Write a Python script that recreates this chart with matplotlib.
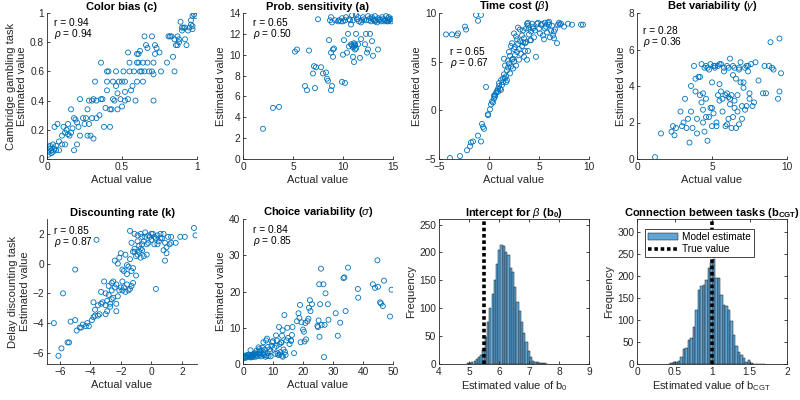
import numpy as np
import matplotlib
matplotlib.use("Agg")
import matplotlib.pyplot as plt

plt.rcParams['font.family'] = ['Liberation Sans', 'DejaVu Sans']
plt.rcParams['mathtext.fontset'] = 'custom'
plt.rcParams['mathtext.rm'] = 'Liberation Sans'
plt.rcParams['mathtext.it'] = 'Liberation Sans:italic'
plt.rcParams['mathtext.bf'] = 'Liberation Sans:bold'

# ---- data (actual, estimated) ----
color_bias = np.array([
    (0.01, 0.03), (0.01, 0.05), (0.02, 0.07), (0.02, 0.09), (0.03, 0.06), (0.04, 0.10), (0.05, 0.07),
    (0.03, 0.04), (0.01, 0.08), (0.06, 0.09), (0.08, 0.06), (0.10, 0.10), (0.10, 0.16), (0.12, 0.10),
    (0.13, 0.20), (0.11, 0.22), (0.14, 0.17), (0.16, 0.18), (0.17, 0.21), (0.15, 0.16), (0.18, 0.06),
    (0.20, 0.10), (0.21, 0.22), (0.20, 0.25), (0.18, 0.28), (0.19, 0.27), (0.16, 0.34), (0.05, 0.22),
    (0.07, 0.24), (0.22, 0.41), (0.27, 0.16), (0.29, 0.16), (0.31, 0.14), (0.26, 0.28), (0.27, 0.34),
    (0.28, 0.40), (0.30, 0.40), (0.31, 0.41), (0.33, 0.40), (0.30, 0.28), (0.28, 0.24), (0.32, 0.53),
    (0.36, 0.66), (0.35, 0.30), (0.37, 0.41), (0.38, 0.22), (0.39, 0.35), (0.40, 0.47), (0.40, 0.53),
    (0.41, 0.60), (0.42, 0.22), (0.43, 0.34), (0.44, 0.41), (0.44, 0.53), (0.45, 0.40), (0.46, 0.60),
    (0.47, 0.45), (0.47, 0.34), (0.48, 0.53), (0.49, 0.41), (0.50, 0.36), (0.50, 0.53), (0.51, 0.60),
    (0.52, 0.46), (0.52, 0.53), (0.54, 0.41), (0.55, 0.60), (0.55, 0.66), (0.54, 0.73), (0.56, 0.47),
    (0.57, 0.50), (0.58, 0.60), (0.59, 0.40), (0.60, 0.53), (0.60, 0.66), (0.61, 0.66), (0.61, 0.72),
    (0.62, 0.60), (0.62, 0.74), (0.63, 0.60), (0.64, 0.53), (0.64, 0.66), (0.65, 0.84), (0.65, 0.60),
    (0.66, 0.78), (0.67, 0.76), (0.67, 0.66), (0.68, 0.60), (0.70, 0.60), (0.70, 0.84), (0.71, 0.40),
    (0.71, 0.66), (0.71, 0.58), (0.72, 0.72), (0.72, 0.78), (0.73, 0.76), (0.75, 0.73), (0.76, 0.60),
    (0.80, 0.66), (0.81, 0.84), (0.82, 0.84), (0.83, 0.84), (0.84, 0.70), (0.85, 0.60), (0.86, 0.78),
    (0.87, 0.78), (0.87, 0.84), (0.88, 0.82), (0.88, 0.80), (0.90, 0.90), (0.89, 0.94), (0.90, 0.88),
    (0.91, 0.90), (0.92, 0.90), (0.93, 0.78), (0.94, 0.88), (0.95, 0.90), (0.96, 0.92), (0.97, 0.91),
    (0.96, 0.95), (0.97, 0.98), (0.98, 0.99), (0.99, 0.98), (0.97, 0.89), (0.92, 0.82), (0.85, 0.82),
    (0.60, 0.72), (0.52, 0.40), (0.46, 0.50), (0.40, 0.60), (0.42, 0.34), (0.36, 0.41), (0.33, 0.28),
    (0.24, 0.28), (0.22, 0.16), (0.25, 0.24), (0.14, 0.24), (0.12, 0.18), (0.08, 0.12), (0.06, 0.06),
    (0.04, 0.05),
])

prob_sens = np.array([
    (2.0, 2.9), (3.0, 4.9), (3.6, 5.0), (5.2, 10.3), (5.4, 10.5), (6.2, 7.0), (6.4, 6.6), (6.6, 10.4),
    (7.0, 8.2), (7.1, 8.9), (7.2, 6.8), (7.3, 8.8), (7.5, 13.4), (7.8, 8.8), (8.0, 8.2), (8.3, 8.3),
    (8.4, 7.7), (8.5, 7.5), (8.6, 11.4), (8.8, 6.6), (8.8, 10.2), (8.9, 7.0), (9.0, 9.8), (9.0, 10.5),
    (9.1, 10.6), (8.7, 13.3), (8.8, 13.6), (8.9, 13.1), (9.2, 13.3), (9.5, 13.2), (9.8, 13.2),
    (9.9, 13.5), (9.9, 7.4), (10.2, 7.3), (10.0, 10.0), (10.1, 11.4), (10.2, 13.3), (10.3, 13.6),
    (10.4, 10.2), (10.5, 12.0), (10.6, 10.8), (10.7, 13.3), (10.8, 12.9), (10.9, 13.8), (10.9, 10.9),
    (11.0, 9.8), (11.0, 10.7), (11.1, 9.3), (11.1, 10.8), (11.2, 11.0), (11.2, 10.5), (11.3, 12.0),
    (11.3, 13.8), (11.4, 13.4), (11.5, 11.0), (11.6, 13.2), (11.7, 9.7), (11.8, 11.5), (11.9, 13.3),
    (12.0, 13.6), (12.2, 11.0), (12.3, 12.0), (12.4, 10.2), (12.5, 13.7), (12.6, 13.3), (12.5, 10.5),
    (12.7, 12.0), (12.8, 13.2), (12.9, 11.3), (13.0, 9.9), (13.0, 13.4), (13.2, 13.7), (13.4, 13.1),
    (13.5, 10.5), (13.5, 13.5), (13.6, 13.3), (13.8, 13.2), (14.0, 13.4), (14.2, 13.3), (14.3, 13.7),
    (14.4, 13.2), (14.5, 13.5), (14.6, 13.3), (14.7, 13.4), (14.8, 13.2), (14.9, 13.4), (12.1, 13.4),
    (11.8, 13.1), (12.9, 13.6), (13.1, 13.3), (10.6, 13.4), (9.6, 13.3), (10.0, 13.2), (13.3, 13.3),
    (14.1, 13.2), (13.9, 13.6), (12.3, 13.3), (12.7, 13.5), (11.0, 13.3), (11.5, 13.6), (13.7, 13.4),
    (14.5, 13.2), (14.6, 13.6), (13.2, 13.2), (11.2, 10.9), (11.1, 11.1), (10.8, 11.0), (11.3, 10.6),
])

time_cost = np.array([
    (-4.3, 7.8), (-3.7, 7.8), (-3.2, 7.7), (-3.1, 7.9), (-2.4, 8.6), (-2.3, 8.3), (-1.3, 9.8),
    (-1.1, 9.2), (-0.8, 9.8), (-3.9, -4.9), (-2.9, -4.7), (-2.2, -4.1), (-1.9, -3.7), (-1.8, -3.3),
    (-1.6, -3.2), (-1.1, -2.6), (-0.8, -3.2), (-0.7, -1.4), (-0.6, -1.7), (-0.5, -1.9), (-0.3, 2.4),
    (-0.1, -0.4), (-0.1, -0.5), (0.1, 0.1), (0.2, 0.6), (0.3, 0.9), (0.4, 0.8), (0.5, 1.2), (0.5, 1.5),
    (0.6, 1.6), (0.7, 1.8), (0.8, 2.0), (0.9, 2.2), (1.0, 2.5), (1.0, 2.8), (1.1, 2.2), (1.2, 3.1),
    (1.3, 2.6), (1.4, 3.3), (1.5, 3.7), (1.5, 5.3), (1.6, 4.6), (1.7, 3.5), (1.7, 2.9), (1.8, 4.1),
    (1.8, 3.1), (1.9, 5.1), (2.0, 4.8), (2.0, 6.0), (2.1, 5.6), (2.1, 3.8), (2.2, 4.5), (2.3, 5.2),
    (2.3, 6.9), (2.4, 4.3), (2.5, 6.3), (2.5, 7.9), (2.6, 5.7), (2.6, 6.5), (2.7, 4.6), (2.8, 6.0),
    (2.8, 7.3), (2.9, 8.5), (3.0, 5.2), (3.0, 6.3), (3.1, 7.1), (3.2, 5.8), (3.3, 7.7), (3.3, 6.6),
    (3.4, 8.2), (3.5, 5.5), (3.5, 7.4), (3.6, 6.9), (3.7, 8.4), (3.7, 7.0), (3.8, 8.9), (3.8, 5.2),
    (3.9, 8.7), (3.9, 9.0), (3.9, 6.1), (4.0, 7.8), (4.0, 8.4), (4.1, 7.2), (4.2, 8.1), (4.3, 8.9),
    (4.4, 8.6), (4.5, 7.5), (4.6, 8.2), (4.7, 5.5), (4.8, 8.9), (4.9, 9.0), (5.0, 8.4), (5.1, 7.9),
    (5.2, 8.8), (5.3, 8.9), (5.4, 7.7), (5.5, 7.3), (5.6, 9.0), (5.7, 8.6), (5.8, 8.0), (5.9, 9.0),
    (6.0, 8.8), (6.0, 9.1), (6.1, 7.5), (6.2, 8.2), (6.3, 8.7), (6.4, 7.7), (6.5, 8.1), (6.6, 8.3),
    (6.8, 6.9), (6.9, 8.8), (7.0, 9.0), (7.1, 8.8), (7.2, 8.9), (7.5, 8.6), (7.9, 8.9), (8.3, 8.8),
    (9.2, 8.8), (9.4, 8.8), (2.2, 6.6), (2.7, 7.6), (3.1, 8.3), (1.4, 2.9), (1.2, 2.1), (1.6, 3.3),
    (2.4, 5.3), (3.6, 6.1), (4.2, 7.2), (2.9, 6.8), (0.9, 1.9), (0.6, 1.4), (1.9, 4.4), (2.5, 5.0),
    (3.4, 7.0), (4.4, 8.4), (5.6, 8.4), (6.5, 7.4),
])

bet_var = np.array([
    (1.2, 0.1), (1.6, 1.4), (2.3, 1.5), (2.4, 1.8), (2.5, 1.3), (2.6, 1.7), (2.9, 2.6), (3.0, 1.8),
    (3.1, 2.0), (3.2, 3.3), (3.3, 1.7), (3.4, 2.2), (3.5, 0.9), (3.6, 4.0), (3.7, 1.7), (3.8, 5.1),
    (3.9, 4.4), (4.0, 1.4), (4.0, 2.2), (4.1, 4.5), (4.2, 3.5), (4.3, 5.2), (4.3, 3.1), (4.4, 2.0),
    (4.4, 2.7), (4.5, 5.0), (4.5, 1.5), (4.6, 2.3), (4.6, 3.3), (4.7, 1.0), (4.7, 5.0), (4.8, 2.3),
    (4.8, 4.9), (4.9, 5.2), (4.9, 2.8), (5.0, 2.8), (5.0, 1.8), (5.0, 4.2), (5.1, 5.1), (5.2, 5.0),
    (5.3, 2.0), (5.3, 1.8), (5.4, 3.5), (5.4, 5.1), (5.5, 3.2), (5.5, 4.1), (5.6, 5.2), (5.7, 3.3),
    (5.7, 2.6), (5.8, 5.0), (5.9, 3.5), (5.9, 1.8), (6.0, 3.6), (6.0, 1.9), (6.0, 5.1), (6.1, 5.0),
    (6.1, 2.2), (6.2, 3.3), (6.2, 5.5), (6.2, 3.0), (6.3, 1.7), (6.3, 3.5), (6.4, 4.6), (6.4, 2.3),
    (6.5, 3.2), (6.5, 5.0), (6.6, 4.4), (6.6, 1.7), (6.7, 2.6), (6.7, 3.5), (6.8, 1.9), (6.8, 5.0),
    (6.9, 5.3), (6.9, 4.2), (7.0, 2.9), (7.0, 2.2), (7.1, 3.9), (7.1, 4.2), (7.2, 5.0), (7.2, 2.7),
    (7.3, 2.9), (7.4, 5.1), (7.4, 4.8), (7.5, 3.6), (7.5, 3.3), (7.6, 5.2), (7.7, 2.9), (7.8, 3.1),
    (7.9, 5.3), (8.1, 4.3), (8.4, 3.6), (8.5, 5.1), (8.6, 3.6), (8.8, 5.1), (8.9, 6.4), (9.0, 5.0),
    (9.1, 4.9), (9.4, 3.3), (9.5, 6.6), (9.5, 3.7), (9.6, 4.7), (5.2, 5.1), (6.8, 4.9), (7.3, 5.1),
    (4.2, 4.5), (3.9, 3.7), (5.8, 4.8), (6.1, 3.4), (5.6, 3.7), (4.4, 3.6), (3.6, 2.6), (5.1, 2.5),
    (6.5, 2.8), (4.6, 5.1), (5.5, 5.2), (6.4, 5.1),
])

disc_rate = np.array([
    (-6.4, -4.0), (-6.1, -6.2), (-5.9, -5.7), (-5.8, -2.0), (-5.5, -5.3), (-5.4, -5.3), (-5.3, -3.9),
    (-5.0, -0.4), (-5.0, -3.8), (-4.9, -4.5), (-4.6, -4.3), (-4.5, -4.1), (-4.3, -4.2), (-4.2, -4.0),
    (-4.1, -4.2), (-3.9, -3.8), (-3.8, -3.6), (-3.7, -3.5), (-3.7, -3.1), (-3.6, 1.6), (-3.5, -3.5),
    (-3.4, -3.4), (-3.3, -2.7), (-3.3, -1.9), (-3.2, -2.6), (-3.1, -1.2), (-3.0, -2.8), (-3.0, -3.4),
    (-2.9, -2.5), (-2.9, -3.2), (-2.8, -2.1), (-2.8, -1.5), (-2.7, -2.7), (-2.6, -1.8), (-2.6, -2.4),
    (-2.5, -1.2), (-2.5, -2.3), (-2.4, -1.6), (-2.4, 0.2), (-2.3, -2.7), (-2.3, -3.2), (-2.3, -1.4),
    (-2.2, -2.2), (-2.2, 0.0), (-2.1, 0.4), (-2.1, -1.8), (-2.0, -1.6), (-2.0, 0.7), (-1.9, -0.4),
    (-1.9, -1.8), (-1.8, -1.6), (-1.8, -0.5), (-1.7, -1.9), (-1.7, 0.6), (-1.6, -1.4), (-1.6, -0.1),
    (-1.6, -0.7), (-1.5, -1.8), (-1.5, -0.2), (-1.4, -1.7), (-1.4, 0.3), (-1.3, -1.5), (-1.3, -0.5),
    (-1.4, 2.2), (-1.3, 1.4), (-1.2, 0.8), (-1.2, -0.3), (-1.2, -1.3), (-1.1, 0.8), (-1.1, 2.0),
    (-1.0, 0.5), (-1.0, -0.8), (-0.9, 1.5), (-0.9, 1.9), (-0.9, 0.6), (-0.8, 1.2), (-0.8, 0.8),
    (-0.7, 1.0), (-0.7, 2.0), (-0.7, 0.4), (-0.6, 1.3), (-0.6, 1.8), (-0.5, 1.5), (-0.5, 0.5),
    (-0.4, 2.1), (-0.4, 1.8), (-0.3, 0.6), (-0.3, 1.3), (-0.2, 1.4), (-0.2, 1.9), (-0.1, 1.8),
    (0.0, 2.0), (0.0, 1.6), (0.1, 2.0), (0.2, 1.8), (0.2, 1.3), (0.3, -1.7), (0.3, 1.7), (0.4, 1.9),
    (0.5, 1.5), (0.6, 1.7), (0.6, 2.0), (0.7, 1.7), (0.8, 0.9), (0.8, 2.0), (0.9, 0.2), (0.9, 1.4),
    (1.0, 0.7), (1.0, 1.1), (1.1, 1.8), (1.2, 1.3), (1.3, 1.4), (1.3, 1.8), (1.6, 1.4), (1.9, 1.8),
    (2.2, 1.8), (2.8, 2.4), (2.9, 1.9), (-0.6, 0.9), (0.4, 1.3), (-1.1, 1.0), (-2.7, -2.9),
    (-3.5, -2.8), (-3.8, -2.6), (-4.7, -4.3), (-3.0, -2.0), (-2.6, -1.3), (-1.9, -1.2),
])

choice_var = np.array([
    (0.3, 1.6), (0.5, 2.0), (0.6, 2.3), (1.0, 2.2), (1.2, 1.8), (1.5, 2.5), (2.0, 2.6), (2.2, 2.0),
    (2.5, 3.8), (2.8, 2.3), (3.0, 2.6), (3.2, 1.9), (3.5, 2.5), (3.7, 2.8), (4.0, 2.3), (4.2, 2.0),
    (4.5, 3.7), (4.8, 2.2), (5.0, 2.8), (5.2, 4.6), (5.5, 3.5), (5.7, 2.5), (6.0, 2.1), (6.2, 3.7),
    (6.5, 4.5), (6.8, 6.0), (7.0, 2.5), (7.2, 4.0), (7.5, 2.0), (7.7, 6.5), (8.0, 7.0), (8.2, 3.0),
    (8.5, 2.2), (8.8, 4.0), (9.0, 3.5), (9.5, 5.0), (10.0, 6.3), (10.5, 4.5), (11.0, 7.9), (11.2, 5.0),
    (11.5, 3.0), (11.8, 2.5), (12.0, 10.2), (12.2, 5.5), (12.5, 3.3), (12.7, 6.0), (13.0, 7.8),
    (13.2, 9.3), (13.3, 2.0), (13.5, 4.0), (13.8, 13.5), (14.0, 3.3), (14.5, 6.5), (14.8, 10.0),
    (15.0, 7.2), (15.5, 5.5), (16.0, 6.5), (16.3, 8.0), (16.5, 10.2), (17.0, 3.0), (18.0, 11.8),
    (18.5, 14.0), (18.8, 12.7), (19.0, 16.3), (19.2, 6.0), (19.5, 11.5), (20.0, 9.5), (20.3, 8.9),
    (20.5, 6.2), (21.0, 6.8), (21.5, 11.8), (21.8, 12.5), (22.0, 15.5), (22.3, 17.6), (22.5, 14.6),
    (23.0, 16.5), (25.0, 10.2), (25.2, 12.0), (25.4, 22.0), (25.5, 7.5), (25.7, 16.5), (26.0, 26.3),
    (26.2, 10.8), (26.8, 22.0), (27.0, 1.9), (27.2, 10.8), (27.5, 19.5), (28.3, 16.5), (28.5, 12.2),
    (30.9, 14.0), (31.6, 7.8), (32.4, 11.4), (33.5, 23.7), (33.8, 23.9), (34.2, 14.6), (35.0, 26.6),
    (38.3, 20.7), (38.4, 18.3), (43.3, 22.0), (44.0, 21.0), (44.8, 28.6), (45.0, 21.3), (45.7, 17.0),
    (46.0, 16.7), (46.6, 16.0), (47.0, 23.0), (49.0, 13.1), (49.5, 20.5), (1.8, 2.1), (2.6, 1.8),
    (3.3, 2.3), (4.4, 2.6), (5.9, 2.9), (0.8, 1.8), (1.6, 2.4), (2.9, 2.0), (3.9, 3.0), (6.6, 2.7),
    (9.2, 2.1), (10.8, 2.8), (12.2, 2.6), (14.2, 2.5), (16.0, 6.4), (12.8, 5.9), (11.3, 6.5),
    (13.0, 2.3), (9.7, 6.0), (8.3, 4.7), (6.9, 3.2), (5.4, 4.1), (7.9, 2.3), (24.8, 10.5), (20.8, 11.3),
])

corr_text = [("0.94", "0.94"), ("0.65", "0.50"), ("0.65", "0.67"),
             ("0.28", "0.36"), ("0.85", "0.87"), ("0.84", "0.85")]

# posterior samples histograms (bin counts)
b0_start, b0_width = 4.925, 0.075
b0_counts = [1, 2, 3, 6, 9, 12, 16, 25, 48, 75, 100, 125, 150, 180, 205, 214, 212, 200,
             195, 172, 165, 138, 112, 95, 75, 55, 40, 24, 12, 6, 4, 3, 2, 2, 1, 0]
b0_true = 5.5

bcgt_start, bcgt_width = 0.4133, 0.0333
bcgt_counts = [1, 2, 4, 5, 7, 17, 34, 36, 55, 59, 85, 123, 169, 177, 180, 192, 218, 230,
               238, 196, 196, 158, 135, 131, 123, 97, 66, 40, 28, 20, 13, 5, 10, 2, 1, 0, 0, 1, 1]
bcgt_true = 1.0

BLUE = '#0072BD'
GRAY = '#262626'

fig = plt.figure(figsize=(8, 4), dpi=100)
lefts = [0.05875, 0.30375, 0.54875, 0.79625]
W = 0.1875

def style(ax, box=False):
    for s in ['top', 'right']:
        ax.spines[s].set_visible(box)
    for s in ax.spines.values():
        s.set_color(GRAY)
        s.set_linewidth(0.6)
    ax.tick_params(direction='in', length=2.5, width=0.6, colors=GRAY, labelsize=7.3,
                   top=box, right=box, pad=2)

def scatter_panel(ax, pts, title, xlim, ylim, xt, yt, ylabel, txtpos, rtxt):
    ax.scatter(pts[:, 0], pts[:, 1], s=13, facecolors='none', edgecolors=BLUE, linewidths=0.6)
    ax.set_xlim(xlim)
    ax.set_ylim(ylim)
    ax.set_xticks(xt)
    ax.set_yticks(yt)
    ax.set_title(title, fontsize=8, fontweight='bold', pad=2)
    ax.set_xlabel('Actual value', fontsize=8, color=GRAY, labelpad=2)
    ax.set_ylabel(ylabel, fontsize=8, color=GRAY, labelpad=2)
    ax.text(txtpos[0], txtpos[1] + 0.006, 'r = ' + rtxt[0], transform=ax.transAxes,
            fontsize=7.3, va='center', ha='left')
    ax.text(txtpos[0], txtpos[1] - 0.072, r'$\rho$ = ' + rtxt[1], transform=ax.transAxes,
            fontsize=7.3, va='center', ha='left')
    style(ax)

top_b, top_h = 0.6025, 0.365
bot_b, bot_h = 0.09, 0.3625

ax1 = fig.add_axes([lefts[0], top_b, W, top_h])
scatter_panel(ax1, color_bias, 'Color bias (c)', (0, 1), (0, 1), [0, 0.5, 1],
              np.arange(0, 1.01, 0.2), 'Cambridge gambling task\nEstimated value',
              (0.05, 0.925), corr_text[0])
ax1.set_xticklabels(['0', '0.5', '1'])
ax1.set_yticklabels(['0', '0.2', '0.4', '0.6', '0.8', '1'])

ax2 = fig.add_axes([lefts[1], top_b, W, top_h])
scatter_panel(ax2, prob_sens, 'Prob. sensitivity (a)', (0, 15), (0, 14), [0, 5, 10, 15],
              np.arange(0, 15, 2), 'Estimated value', (0.069, 0.925), corr_text[1])

ax3 = fig.add_axes([lefts[2], top_b, W, top_h])
scatter_panel(ax3, time_cost, r'Time cost ($\beta$)', (-5, 10), (-5, 10), [-5, 0, 5, 10],
              [-5, 0, 5, 10], 'Estimated value', (0.073, 0.73), corr_text[2])

ax4 = fig.add_axes([lefts[3], top_b, W, top_h])
scatter_panel(ax4, bet_var, r'Bet variability ($\gamma$)', (0, 10), (0, 8), [0, 5, 10],
              [0, 2, 4, 6, 8], 'Estimated value', (0.042, 0.872), corr_text[3])

ax5 = fig.add_axes([lefts[0], bot_b, W, bot_h])
scatter_panel(ax5, disc_rate, 'Discounting rate (k)', (-6.85, 3), (-6.75, 3), [-6, -4, -2, 0, 2],
              [-6, -4, -2, 0, 2], 'Delay discounting task\nEstimated value',
              (0.05, 0.913), corr_text[4])

ax6 = fig.add_axes([lefts[1], bot_b, W, bot_h])
scatter_panel(ax6, choice_var, r'Choice variability ($\sigma$)', (0, 50), (0, 40),
              [0, 10, 20, 30, 40, 50], [0, 10, 20, 30, 40], 'Estimated value',
              (0.069, 0.92), corr_text[5])

HIST_FACE = '#5FA6D6'

def hist_panel(ax, start, width, counts, true_val, title, xlabel, xlim, ylim, xt, yt):
    centers = start + width * (np.arange(len(counts)) + 0.5)
    bars = ax.bar(centers, counts, width=width, facecolor=HIST_FACE, edgecolor='#1a1a1a',
                  linewidth=0.35)
    line = ax.axvline(true_val, color='k', linewidth=2.6, linestyle=(0, (1, 0.75)))
    ax.set_xlim(xlim)
    ax.set_ylim(ylim)
    ax.set_xticks(xt)
    ax.set_yticks(yt)
    ax.set_title(title, fontsize=8, fontweight='bold', pad=2)
    ax.set_xlabel(xlabel, fontsize=8, color=GRAY, labelpad=2)
    ax.set_ylabel('Frequency', fontsize=8, color=GRAY, labelpad=2)
    style(ax, box=True)
    return bars, line

ax7 = fig.add_axes([lefts[2], bot_b, W, bot_h])
hist_panel(ax7, b0_start, b0_width, b0_counts, b0_true,
           r'Intercept for $\beta$ (b$_\mathbf{0}$)', r'Estimated value of b$_0$',
           (4, 9), (0, 260), [4, 5, 6, 7, 8, 9], [0, 50, 100, 150, 200, 250])

ax8 = fig.add_axes([lefts[3], bot_b, W, bot_h])
bars, line = hist_panel(ax8, bcgt_start, bcgt_width, bcgt_counts, bcgt_true,
                        r'Connection between tasks (b$_\mathbf{CGT}$)',
                        r'Estimated value of b$_\mathrm{CGT}$',
                        (0, 2), (0, 330), [0, 0.5, 1, 1.5, 2], [0, 50, 100, 150, 200, 250, 300])
ax8.set_xticklabels(['0', '0.5', '1', '1.5', '2'])
leg = ax8.legend([bars, line], ['Model estimate', 'True value'], loc='upper left',
                 bbox_to_anchor=(0.053, 0.932), fontsize=7.3, fancybox=False, framealpha=1,
                 edgecolor=GRAY, handlelength=3.0, borderpad=0.3, labelspacing=0.25,
                 handletextpad=0.4, borderaxespad=0)
leg.get_frame().set_linewidth(0.6)

fig.savefig('out.png', dpi=100)
